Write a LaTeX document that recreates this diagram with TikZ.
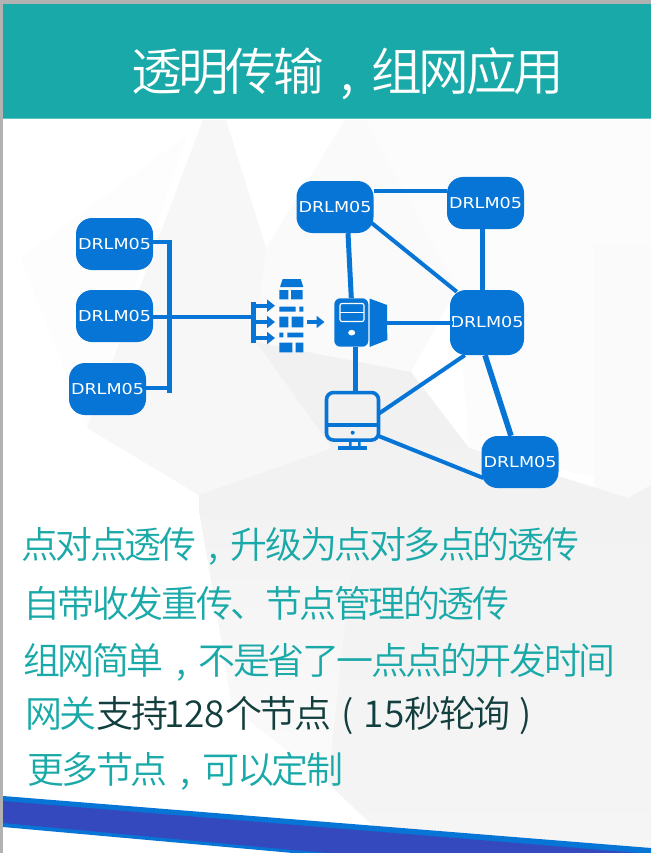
\documentclass[tikz,border=0pt]{standalone}
\usepackage{fontspec}
\setmainfont{Noto Sans CJK SC DemiLight}
\newfontfamily\cjkbody[LetterSpace=-6.6]{Noto Sans CJK SC DemiLight}
\newfontfamily\drlmfont[FakeStretch=1.17]{DejaVu Sans}
\usetikzlibrary{arrows.meta,calc}
\definecolor{teal1}{HTML}{1AA9A9}
\definecolor{dark1}{HTML}{123E3E}
\definecolor{blue1}{HTML}{0675D6}
\definecolor{band1}{HTML}{3549BF}
\newcommand{\cellp}[1]{\makebox[0.935em][c]{#1}}
\newcommand{\drl}{\raisebox{1pt}{DRLM05}}
\newcommand{\digs}[1]{{\rmfamily #1}}
\tikzset{
  x=1pt,y=-1pt,
  drlm/.style={rectangle,rounded corners=16pt,fill=blue1,minimum width=77pt,minimum height=52pt,inner sep=0pt,text=white,font=\drlmfont\fontsize{15}{16}\selectfont},
  link/.style={draw=blue1,line width=4.6pt},
  stub/.style={draw=blue1,line width=4pt},
  icon/.style={fill=blue1,draw=none},
  flow/.style={draw=blue1,line width=3.6pt,-{Triangle[length=8pt,width=12pt]}},
  body/.style={anchor=west,inner sep=0pt,text=teal1,font=\cjkbody\fontsize{37}{40}\selectfont},
}
\begin{document}
\begin{tikzpicture}
\useasboundingbox (0,0) rectangle (651,853);
\clip (0,0) rectangle (651,853);
% background facets
\fill[white] (0,0) rectangle (651,853);
\fill[black!1.2] (345,120) -- (651,120) -- (651,490) -- (469,448) -- (457,288) -- (365,120) -- cycle;
\fill[black!2] (594,245) -- (651,245) -- (651,485) -- (628,498) -- (594,490) -- cycle;
\fill[black!.7] (187,135) -- (21,258) -- (87,428) -- cycle;
\fill[black!3] (203,120) -- (226,120) -- (266,248) -- (256,342) -- (332,448) -- (199,495) -- (87,428) -- cycle;
\fill[black!1.8] (345,120) -- (365,120) -- (457,288) -- (411,372) -- (256,342) -- (266,248) -- cycle;
\fill[black!5.5] (256,342) -- (411,372) -- (469,448) -- (332,448) -- cycle;
\fill[black!5] (332,448) -- (469,448) -- (628,498) -- (651,485) -- (651,520) -- (357,510) -- (199,510) -- (199,495) -- cycle;
\shade[top color=black!5,bottom color=black!1.5] (199,510) -- (357,510) -- (328,783) -- (232,707) -- (220,633) -- cycle;
\shade[top color=black!5,bottom color=black!4] (357,510) -- (651,519) -- (651,853) -- (374,827) -- (328,783) -- cycle;
% frame
\fill[black!30] (0,0) rectangle (651,4);
\fill[black!30] (0,0) rectangle (3,853);
\fill[teal1] (3,4) rectangle (651,118);
\fill[teal1!70!white] (3,118) rectangle (651,119.5);
% bottom band
\fill[blue1] (3,796) -- (651,848) -- (651,880) -- (293,853) -- (3,827) -- cycle;
\fill[band1] (3,801) -- (651,854) -- (651,880) -- (293,850) -- (3,823) -- cycle;
% title
\node[anchor=west,inner sep=0pt,text=white,font=\cjkbody\fontsize{50.7}{54}\selectfont] (title) at (131,74) {透明传输\cellp{,}组网应用};
% body text
\node[body] (t1) at (21,546) {点对点透传\cellp{,}升级为点对多点的透传};
\node[body] (t2) at (23,603) {自带收发重传、节点管理的透传};
\node[body] (t3) at (23,662) {组网简单\cellp{,}不是省了一点点的开发时间};
\node[body] (t4) at (25,716) {网关\textcolor{dark1}{支持\hspace{-4pt}\digs{128}个节点\hspace{-1pt}\cellp{(}\hspace{-1pt}\digs{15}秒轮询\hspace{-2pt}\cellp{)}}};
\node[body] (t5) at (27,771) {更多节点\cellp{,}可以定制};
% modules
\node[drlm] (a1) at (114.5,244) {\drl};
\node[drlm] (a2) at (114.5,316) {\drl};
\node[drlm] (a3) at (107.5,389) {\drl};
\node[drlm] (b1) at (335,207) {\drl};
\node[drlm] (b2) at (485.5,203) {\drl};
\node[drlm,minimum width=74pt,minimum height=65pt] (b3) at (487,322.5) {\drl};
\node[drlm] (b4) at (520,462) {\drl};
% bus
\coordinate (bustop) at (169.5,240);
\coordinate (busbot) at (169.5,393);
\coordinate (gwbar) at (251,317);
\draw[link,line width=5pt] (bustop) -- (busbot);
\draw[stub] (a1.east |- 0,241.5) -- (170,241.5);
\draw[stub] (a3.east |- 0,388) -- (170,388);
\draw[stub] (a2.east |- 0,317) -- (gwbar);
% gateway
\fill[icon] (250.7,301.7) rectangle (256,343.3);
\foreach \yy in {305.7,322,338}{\draw[flow] (256,\yy) -- (275,\yy);}
\fill[icon] (280,287) -- (282.7,279) -- (300.7,279) -- (303.3,287) -- cycle;
\fill[icon] (279.3,290) rectangle (288.3,299.3) (291,290) rectangle (302.7,299.3);
\fill[icon] (279.3,306.7) rectangle (295.7,311.7) (299.3,306.7) rectangle (303.3,311.7);
\fill[icon] (279.3,316.7) rectangle (288.3,327.3) (291.7,316.7) rectangle (303.3,327.3);
\fill[icon] (279.3,332.7) rectangle (283.3,337.3) (287.3,332.7) rectangle (303.3,337.3);
\fill[icon] (279.3,342.7) rectangle (292.3,352.3) (295.7,342.7) rectangle (303.3,352.3);
\coordinate (gwout) at (306.7,322);
\coordinate (gwin) at (324.5,322);
\draw[flow] (gwout) -- (gwin);
% server
\node[rectangle,rounded corners=6pt,fill=blue1,minimum width=34pt,minimum height=48.4pt,inner sep=0pt] (sv) at (351.3,322.5) {};
\fill[icon] (369.5,298.5) -- (387,305) -- (387.3,340) -- (369.5,347) -- cycle;
\draw[white,line width=1.2pt,rounded corners=2pt] (340,303.5) rectangle (364,321.5);
\draw[white,line width=1.2pt] (340,312.5) -- (364,312.5);
\fill[white] (351.7,332.7) ellipse (3.5 and 2.8);
% monitor
\node[rectangle,rounded corners=7pt,draw=blue1,line width=3.6pt,minimum width=52pt,minimum height=47.5pt,inner sep=0pt] (mn) at (352.5,416.3) {};
\draw[blue1,line width=3.2pt] (326,425) -- (379,425);
\fill[icon] (352.7,432.7) circle (2);
\fill[icon] (349,442) rectangle (351.5,446) (358,442) rectangle (360.5,446);
\fill[icon] (338.3,446) rectangle (367.3,449.5);
% links
\draw[stub] (b1.east |- 0,190.7) -- (b2.west |- 0,190.7);
\draw[link,line width=5pt] ($(b1.south)+(13,0)$) -- ($(sv.north)+(0,0)$);
\draw[stub] ($(b1.east)+(-2,16)$) -- ($(b3.north west)+(7,2)$);
\draw[link,line width=5pt] (b2.south -| 482.7,0) -- (b3.north -| 482.7,0);
\draw[stub] (387.3,323.3) -- ($(b3.west)+(3,0.8)$);
\draw[link] (355.7,347) -- (mn.north -| 355.7,0);
\draw[stub] ($(mn.east)+(-1,-3)$) -- ($(b3.south west)+(15,0)$);
\draw[stub] ($(mn.east)+(-1,20)$) -- ($(b4.west)+(2,16)$);
\draw[link,line width=5.6pt] ($(b3.south)+(-2,0)$) -- ($(b4.north)+(-9,0)$);
\end{tikzpicture}
\end{document}
